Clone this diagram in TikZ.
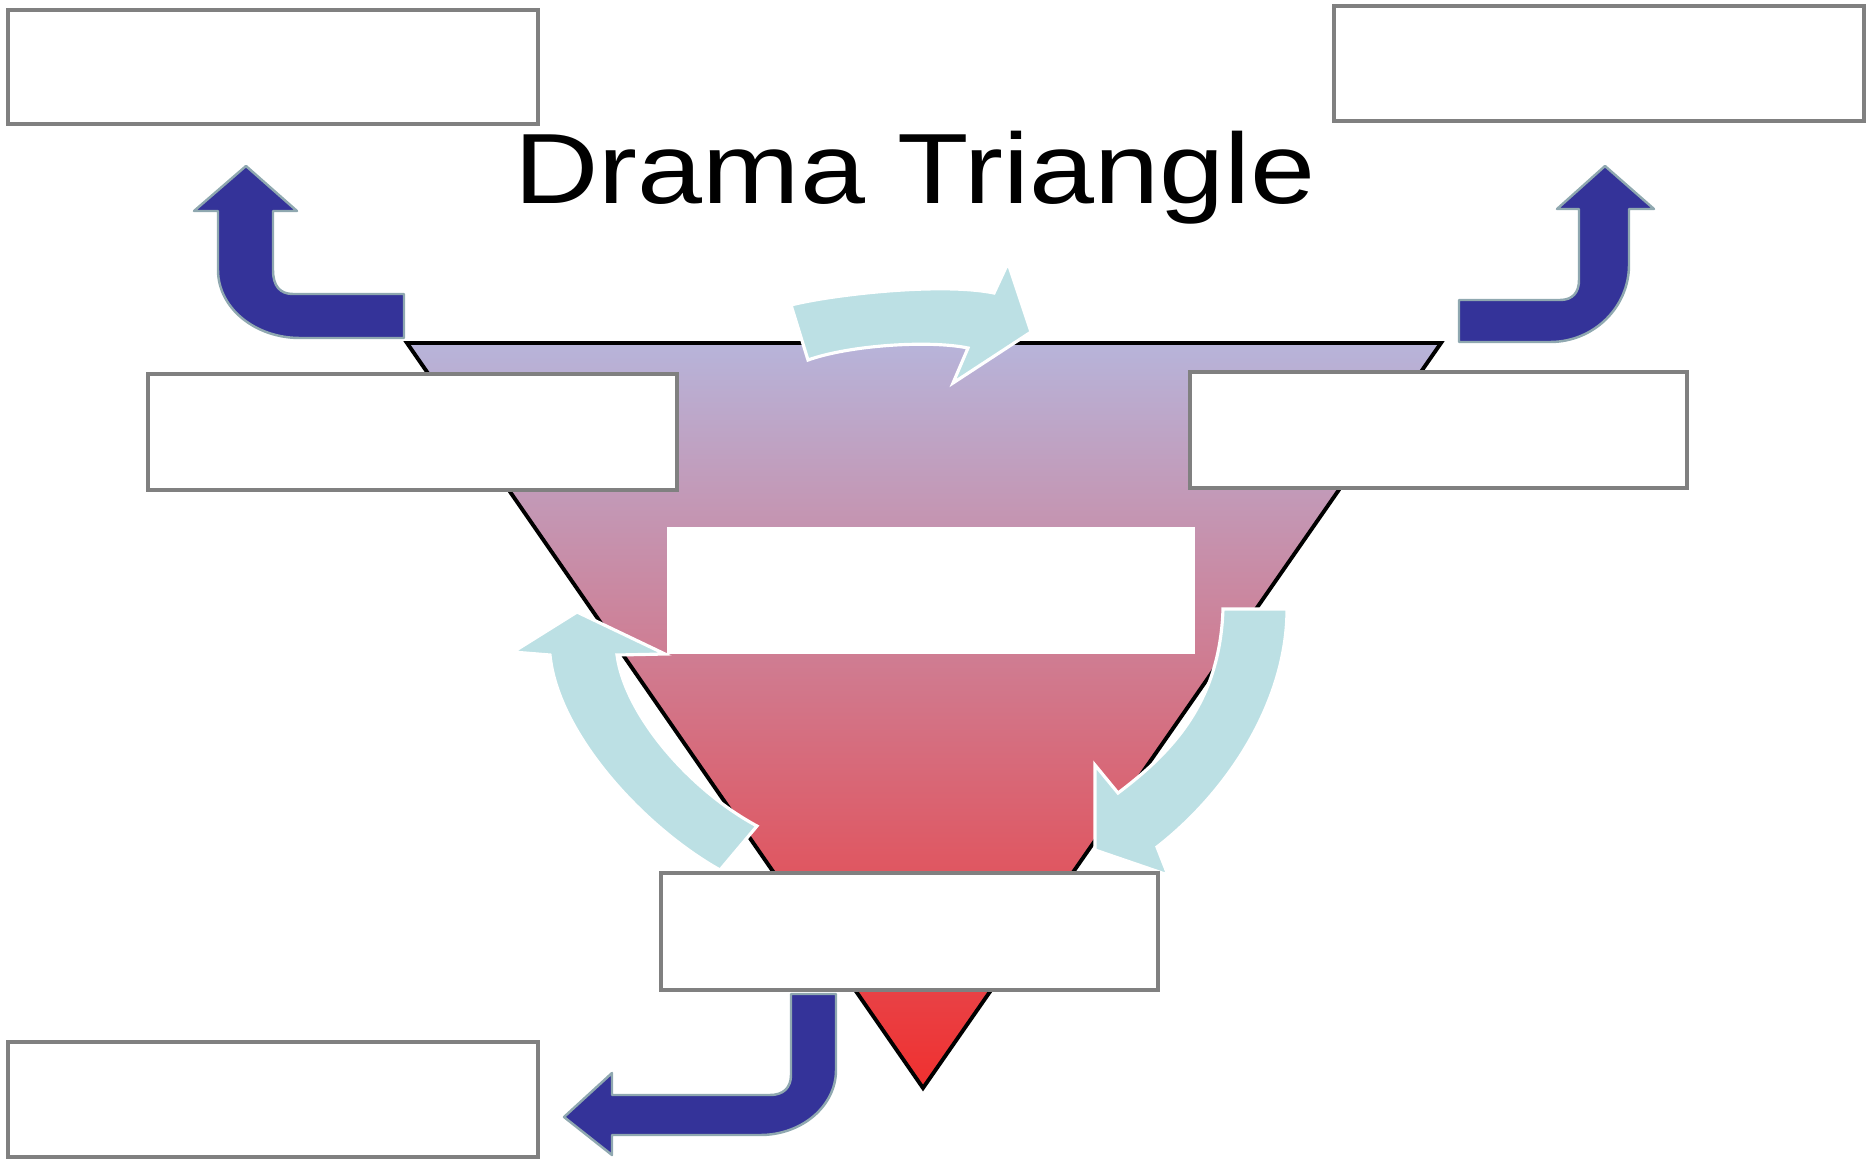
\documentclass[tikz,border=0pt]{standalone}
\usepackage{fontspec}
\setmainfont{Liberation Sans}
\definecolor{boxgray}{HTML}{808080}
\definecolor{navy}{HTML}{343399}
\definecolor{navyedge}{HTML}{8FA8B0}
\definecolor{pale}{HTML}{BCE0E4}
\definecolor{lav}{HTML}{B7B4DA}
\definecolor{rose}{HTML}{D9708A}
\definecolor{redd}{HTML}{F0302F}
\begin{document}
\begin{tikzpicture}[x=0.01cm,y=-0.01cm,
  box/.style={draw=boxgray, fill=white, line width=0.9pt},
  bendarrow/.style={fill=navy, draw=navyedge, line width=0.7pt, line join=round},
  cycarrow/.style={fill=pale, draw=white, line width=0.9pt, line join=miter},
  titletext/.style={font=\fontsize{28.4pt}{30pt}\selectfont, inner sep=0pt, anchor=base}]
\useasboundingbox (0,0) rectangle (1872,1160);

% triangle
\coordinate (tA) at (407,343);
\coordinate (tB) at (1441,343);
\coordinate (tC) at (923,1088);
\shade[top color=lav, middle color=rose, bottom color=redd] (tA) -- (tB) -- (tC) -- cycle;
\draw[black, line width=1.1pt, line join=miter] (tA) -- (tB) -- (tC) -- cycle;

% central white panel
\fill[white] (667,527) rectangle (1195,654);

% title
\node[titletext] (title) at (915,203) {\scalebox{1.17}[1]{Drama Triangle}};

% cyan cycle arrows
\filldraw[cycarrow] (791,305) .. controls (830,295) and (940,282) .. (994,293)
  -- (1008,263) -- (1031,332) -- (953,383) -- (968,348)
  .. controls (930,340) and (850,345) .. (808,360) -- cycle;
\filldraw[cycarrow] (577,612) -- (665,654) -- (617,655)
  .. controls (625,715) and (690,790) .. (757,826) -- (720,870)
  .. controls (645,828) and (558,735) .. (550,655) -- (513,652) -- cycle;
\filldraw[cycarrow] (1223,609) -- (1287,609)
  .. controls (1287,700) and (1230,790) .. (1157,847)
  -- (1168,875) -- (1095,850) -- (1095,765) -- (1118,793)
  .. controls (1175,750) and (1220,700) .. (1223,609) -- cycle;

% blue bent arrows
\draw[bendarrow] (246,166) -- (297,211) -- (273,211) -- (273,270)
  .. controls (273,286) and (280,294) .. (293,294) -- (404,294) -- (404,338) -- (300,338)
  .. controls (255,338) and (218,308) .. (218,270) -- (218,211) -- (194,211) -- cycle;
\draw[bendarrow] (1605,166) -- (1654,209) -- (1629,209) -- (1629,265)
  .. controls (1629,307) and (1594,342) .. (1550,342) -- (1459,342) -- (1459,300) -- (1560,300)
  .. controls (1573,300) and (1579,292) .. (1579,280) -- (1579,209) -- (1557,209) -- cycle;
\draw[bendarrow] (791,994) -- (836,994) -- (836,1070)
  .. controls (836,1106) and (802,1135) .. (760,1135) -- (612,1135) -- (612,1155) -- (564,1117)
  -- (612,1073) -- (612,1095) -- (770,1095)
  .. controls (783,1095) and (791,1088) .. (791,1075) -- cycle;

% empty label boxes
\draw[box] (8,10) rectangle (538,124);
\draw[box] (1334,6) rectangle (1864,121);
\draw[box] (148,374) rectangle (677,490);
\draw[box] (1190,372) rectangle (1687,488);
\draw[box] (661,873) rectangle (1158,990);
\draw[box] (8,1042) rectangle (538,1157);
\end{tikzpicture}
\end{document}
